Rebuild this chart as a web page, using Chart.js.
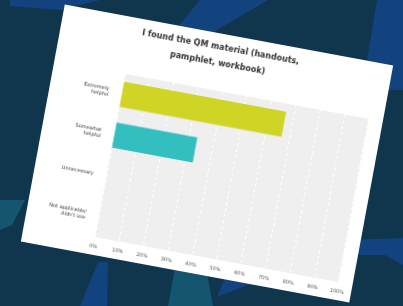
<!DOCTYPE html>
<html>
<head>
<meta charset="utf-8">
<script src="https://cdn.jsdelivr.net/npm/chart.js@4"></script>
<style>
  html, body { margin: 0; padding: 0; }
  body { width: 403px; height: 306px; overflow: hidden; position: relative; background: #10364e; }
  .shape { position: absolute; left: 0; top: 0; width: 403px; height: 306px; }
  .blue { background: #12437f; }
  .teal { background: #14556f; }
  #card {
    position: absolute; left: 40px; top: 33px; width: 334px; height: 241px;
    background: #fff; transform: rotate(10.5deg); transform-origin: 50% 50%;
  }
  #card canvas { display: block; }
</style>
</head>
<body>
<!-- background shapes -->
<div class="shape blue" style="clip-path: polygon(10px 0, 100px 0, 60px 10px, 10px 6px);"></div>
<div class="shape blue" style="clip-path: polygon(200px 0, 268px 0, 200px 40px, 150px 60px);"></div>
<div class="shape blue" style="clip-path: polygon(377px 0, 403px 0, 403px 90px, 362px 90px);"></div>
<div class="shape blue" style="clip-path: polygon(350px 240px, 403px 238px, 403px 265px, 385px 255px, 360px 255px);"></div>
<div class="shape blue" style="clip-path: polygon(98px 262px, 108px 262px, 107px 306px, 80px 306px);"></div>
<div class="shape teal" style="clip-path: polygon(175px 268px, 206px 268px, 213px 306px, 168px 306px);"></div>
<div class="shape blue" style="clip-path: polygon(225px 278px, 253px 283px, 217px 297px);"></div>
<div class="shape teal" style="clip-path: polygon(0 200px, 25px 200px, 12px 225px, 0 230px);"></div>

<div id="card"><canvas id="chart" width="334" height="241"></canvas></div>

<script>
const titleLines = ['I found the QM material (handouts,', 'pamphlet, workbook)'];
const categories = [['Extremely', 'helpful'], ['Somewhat', 'helpful'], 'Unnecessary', ['Not applicable/', 'didn\'t use']];
const percentages = [66.67, 33.33, 0, 0];
const barColors = ['#cfd425', '#33bfc0', '#cfd425', '#33bfc0'];
const xTicks = [0, 10, 20, 30, 40, 50, 60, 70, 80, 90, 100];

// gray plot background
const plotBg = {
    id: 'plotBg',
    beforeDraw(chart) {
        const a = chart.chartArea;
        const ctx = chart.ctx;
        ctx.save();
        ctx.fillStyle = '#efefef';
        ctx.fillRect(a.left, a.top, a.right - a.left, a.bottom - a.top);
        ctx.restore();
    }
};

new Chart(document.getElementById('chart'), {
    type: 'bar',
    data: {
        labels: categories,
        datasets: [{
            data: percentages,
            backgroundColor: barColors,
            borderWidth: 0,
            categoryPercentage: 1,
            barPercentage: 0.62
        }]
    },
    options: {
        indexAxis: 'y',
        responsive: false,
        animation: false,
        layout: { padding: { left: 0, right: 12, top: 0, bottom: 0 } },
        plugins: {
            legend: { display: false },
            tooltip: { enabled: false },
            title: {
                display: true,
                text: titleLines,
                color: '#333',
                font: { family: 'DejaVu Sans', size: 8, weight: 'bold', lineHeight: 2 },
                padding: { top: 6, bottom: 19 }
            }
        },
        scales: {
            x: {
                min: 0, max: 100,
                afterBuildTicks: s => { s.ticks = xTicks.map(v => ({ value: v })); },
                afterFit: s => { s.height = 18; },
                grid: { color: '#ffffff', lineWidth: 1, drawTicks: false },
                border: { display: false, dash: [3, 3] },
                ticks: {
                    color: '#555',
                    font: { family: 'DejaVu Sans', size: 5 },
                    padding: 7,
                    maxRotation: 0,
                    callback: v => v + '%'
                }
            },
            y: {
                afterFit: s => { s.width = 72; },
                grid: { display: false },
                border: { display: false },
                ticks: {
                    color: '#333',
                    font: { family: 'DejaVu Sans', size: 5 },
                    padding: 5
                }
            }
        }
    },
    plugins: [plotBg]
});
</script>
</body>
</html>
